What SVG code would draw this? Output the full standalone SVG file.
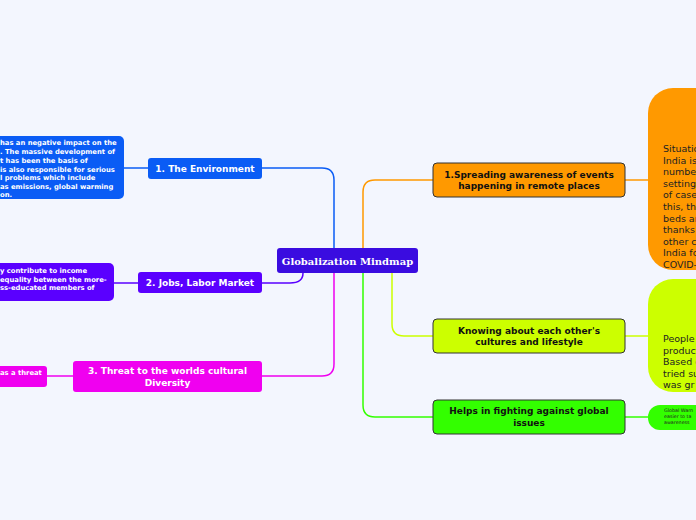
<svg xmlns="http://www.w3.org/2000/svg" width="696" height="520" viewBox="0 0 696 520">
<style>
.b{font-family:"DejaVu Sans",Verdana,sans-serif;font-weight:bold}
.w{fill:#fff}
.k{fill:#111}
.c{fill:none;stroke-width:1.5}
.n{stroke:#333;stroke-width:1}
.r{font-family:"DejaVu Sans",Verdana,sans-serif;font-size:9.5px;fill:#222}
</style>
<rect width="696" height="520" fill="#f3f6fe"/>
<g id="connectors">
<path class="c" stroke="#0a5cf5" d="M262,168 H322 Q334,168 334,180 V248"/>
<path class="c" stroke="#5a00ff" d="M262,283 H290 Q303,283 303,273"/>
<path class="c" stroke="#f000f0" d="M262,376 H322 Q334,376 334,364 V273"/>
<path class="c" stroke="#0a5cf5" d="M124,168 H148"/>
<path class="c" stroke="#5a00ff" d="M114,283 H138"/>
<path class="c" stroke="#f000f0" d="M47,376 H73"/>
<path class="c" stroke="#ff9900" d="M363,248 V192 Q363,180 375,180 H433"/>
<path class="c" stroke="#ccff00" d="M392,273 V324 Q392,336 404,336 H433"/>
<path class="c" stroke="#33ff00" d="M363,273 V405 Q363,417 375,417 H433"/>
<path class="c" stroke="#ff9900" d="M625,180 H648"/>
<path class="c" stroke="#ccff00" d="M625,336 H648"/>
<path class="c" stroke="#33ff00" d="M625,417 H648"/>
</g>
<g id="central"><rect x="277" y="248" width="141" height="25" rx="3" fill="#3a0ce0"/><text x="347.5" y="265" text-anchor="middle" font-family="'DejaVu Serif',Georgia,serif" font-weight="bold" font-size="10" fill="#fff">Globalization Mindmap</text></g>
<g id="env"><rect x="148" y="158" width="114" height="21" rx="3" fill="#0a5cf5"/><text class="b w" x="205" y="172" text-anchor="middle" font-size="9">1. The Environment</text></g>
<g id="env-note"><rect x="-20" y="136" width="144" height="63" rx="5" fill="#0a5cf5"/><text class="b w" font-size="6.8"><tspan x="0" y="145">has an negative impact on the</tspan><tspan x="0" y="154">. The massive development of</tspan><tspan x="0" y="163">t has been the basis of</tspan><tspan x="0" y="172">is also responsible for serious</tspan><tspan x="0" y="180">l problems which include</tspan><tspan x="0" y="189">as emissions, global warming</tspan><tspan x="0" y="197">on.</tspan></text></g>
<g id="jobs"><rect x="138" y="272" width="124" height="21" rx="3" fill="#5a00ff"/><text class="b w" x="200" y="286" text-anchor="middle" font-size="9">2. Jobs, Labor Market</text></g>
<g id="jobs-note"><rect x="-20" y="263" width="134" height="38" rx="5" fill="#5a00ff"/><text class="b w" font-size="6.8"><tspan x="0" y="273">y contribute to income</tspan><tspan x="0" y="282">equality between the more-</tspan><tspan x="0" y="290">ss-educated members of</tspan></text></g>
<g id="threat"><rect x="73" y="361" width="189" height="31" rx="3" fill="#f000f0"/><text class="b w" text-anchor="middle" font-size="9"><tspan x="167.5" y="374">3. Threat to the worlds cultural</tspan><tspan x="167.5" y="386">Diversity</tspan></text></g>
<g id="threat-note"><rect x="-20" y="366" width="67" height="21" rx="3" fill="#f000f0"/><text class="b w" x="0" y="375" font-size="6.8">as a threat</text></g>
<g id="spread"><rect class="n" x="433" y="163" width="192" height="34" rx="4" fill="#ff9900"/><text class="b k" text-anchor="middle" font-size="9"><tspan x="529" y="178">1.Spreading awareness of events</tspan><tspan x="529" y="189">happening in remote places</tspan></text></g>
<g id="spread-note"><rect x="648" y="88" width="80" height="182" rx="25" fill="#ff9900"/><text class="r"><tspan x="663" y="152">Situatio</tspan><tspan x="663" y="163.6">India is</tspan><tspan x="663" y="175.2">numbe</tspan><tspan x="663" y="186.8">setting</tspan><tspan x="663" y="198.4">of case</tspan><tspan x="663" y="210">this, th</tspan><tspan x="663" y="221.6">beds ar</tspan><tspan x="663" y="233.2">thanks</tspan><tspan x="663" y="244.8">other c</tspan><tspan x="663" y="256.4">India fo</tspan><tspan x="663" y="268">COVID-</tspan></text></g>
<g id="know"><rect class="n" x="433" y="319" width="192" height="34" rx="4" fill="#ccff00"/><text class="b k" text-anchor="middle" font-size="9"><tspan x="529" y="334">Knowing about each other's</tspan><tspan x="529" y="345">cultures and lifestyle</tspan></text></g>
<g id="know-note"><rect x="648" y="279" width="80" height="113" rx="25" fill="#ccff00"/><text class="r"><tspan x="663" y="342">People</tspan><tspan x="663" y="353.5">product</tspan><tspan x="663" y="365">Based o</tspan><tspan x="663" y="376.5">tried su</tspan><tspan x="663" y="388">was gr</tspan></text></g>
<g id="global"><rect class="n" x="433" y="400" width="192" height="34" rx="4" fill="#33ff00"/><text class="b k" text-anchor="middle" font-size="9"><tspan x="529" y="414">Helps in fighting against global</tspan><tspan x="529" y="426">issues</tspan></text></g>
<g id="global-note"><rect x="648" y="405" width="80" height="25" rx="12" fill="#33ff00"/><text font-family="'DejaVu Sans',sans-serif" font-size="4.8" fill="#222"><tspan x="664" y="412">Global Warn</tspan><tspan x="664" y="418">easier to ta</tspan><tspan x="664" y="424">awareness</tspan></text></g>
</svg>
